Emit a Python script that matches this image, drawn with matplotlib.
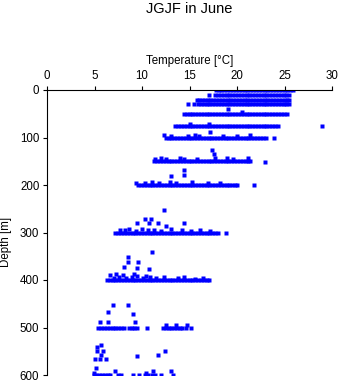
import matplotlib.pyplot as plt

plt.rcParams["font.family"] = ["Liberation Sans", "DejaVu Sans"]

# standard depths of the cast [m] and the temperatures read at each [degC]
row_depths = [0, 10, 20, 30, 50, 75, 100, 150, 200, 300, 400, 500, 600]
row_temps = [
    [17.8, 18.1, 18.3, 18.6, 18.9, 19.3, 19.6, 19.9, 20.2, 20.5, 20.8, 21.1, 21.4, 21.7,
     22.0, 22.3, 22.6, 22.9, 23.2, 23.5, 23.8, 24.1, 24.4, 24.7, 25.0, 25.3, 25.6, 25.9],
    [17.1, 17.7, 18.0, 18.3, 18.6, 18.9, 19.2, 19.5, 19.8, 20.1, 20.4, 20.7, 21.0, 21.3,
     21.6, 21.9, 22.2, 22.5, 22.8, 23.1, 23.4, 23.7, 24.0, 24.3, 24.6, 24.9, 25.2, 25.5],
    [15.8, 16.0, 16.3, 16.6, 16.9, 17.2, 17.5, 17.8, 18.1, 18.4, 18.7, 19.0, 19.3, 19.6,
     19.9, 20.2, 20.5, 20.8, 21.1, 21.4, 21.7, 22.0, 22.3, 22.6, 22.9, 23.2, 23.5, 23.8,
     24.1, 24.4, 24.7, 25.0, 25.3, 25.5],
    [14.8, 15.5, 15.9, 16.2, 16.5, 16.8, 17.1, 17.4, 17.7, 18.0, 18.3, 18.6, 18.9, 19.2,
     19.5, 19.8, 20.1, 20.4, 20.7, 21.0, 21.3, 21.6, 21.9, 22.2, 22.5, 22.8, 23.1, 23.4,
     23.7, 24.0, 24.3, 24.6, 24.9, 25.2, 25.5],
    [14.4, 14.7, 15.0, 15.3, 15.6, 15.9, 16.2, 16.5, 16.8, 17.1, 17.4, 17.7, 18.0, 18.3,
     18.6, 18.9, 19.2, 19.5, 19.8, 20.1, 20.4, 20.7, 21.0, 21.3, 21.6, 21.9, 22.2, 22.5,
     22.8, 23.1, 23.4, 23.7, 24.0, 24.3, 24.6, 24.9, 25.3],
    [13.5, 13.8, 14.1, 14.4, 14.7, 15.0, 15.3, 15.6, 15.9, 16.2, 16.5, 16.8, 17.1, 17.4,
     17.7, 18.0, 18.3, 18.6, 18.9, 19.2, 19.5, 19.8, 20.1, 20.4, 20.7, 21.0, 21.3, 21.6,
     21.9, 22.2, 22.5, 22.8, 23.1, 23.4, 23.7, 24.0, 24.3, 28.9],
    [12.5, 12.8, 13.1, 13.4, 13.7, 14.0, 14.3, 14.6, 14.9, 15.2, 15.5, 15.8, 16.1, 16.4,
     16.7, 17.0, 17.3, 17.6, 17.9, 18.2, 18.5, 18.8, 19.1, 19.4, 19.7, 20.0, 20.3, 20.6,
     20.9, 21.2, 21.5, 21.8, 22.1, 22.4, 22.7, 23.1],
    [11.3, 11.6, 11.9, 12.2, 12.5, 12.8, 13.1, 13.4, 13.7, 14.0, 14.3, 14.6, 14.9, 15.2,
     15.5, 15.8, 16.1, 16.4, 16.7, 17.0, 17.3, 17.6, 17.9, 18.2, 18.5, 18.8, 19.1, 19.4,
     19.7, 20.0, 20.3, 20.6, 20.9, 21.2, 21.4],
    [9.6, 9.9, 10.2, 10.5, 10.8, 11.1, 11.4, 11.7, 12.0, 12.3, 12.6, 12.9, 13.2, 13.5,
     13.8, 14.1, 14.4, 14.7, 15.0, 15.3, 15.6, 15.9, 16.2, 16.5, 16.8, 17.1, 17.4, 17.7,
     18.0, 18.3, 18.6, 18.9, 19.2, 19.5, 19.8, 20.0],
    [7.2, 7.5, 7.8, 8.1, 8.4, 8.7, 9.0, 9.3, 9.6, 9.9, 10.2, 10.5, 10.8, 11.1, 11.4,
     11.7, 12.0, 12.3, 12.6, 12.9, 13.2, 13.5, 13.8, 14.1, 14.4, 14.7, 15.0, 15.3, 15.6,
     15.9, 16.2, 16.5, 16.8, 17.1, 17.4, 17.7, 18.0],
    [6.3, 6.6, 6.9, 7.2, 7.5, 7.8, 8.1, 8.4, 8.7, 9.0, 9.3, 9.6, 9.9, 10.2, 10.5, 10.8,
     11.1, 11.4, 11.7, 12.0, 12.3, 12.6, 12.9, 13.2, 13.5, 13.8, 14.1, 14.4, 14.7, 15.0,
     15.3, 15.6, 15.9, 16.2, 16.5, 16.8, 17.1],
    [5.4, 5.7, 6.0, 6.3, 6.6, 6.9, 7.2, 7.5, 7.8, 8.1, 8.6, 8.9, 9.2, 9.5, 10.5, 12.2,
     12.5, 12.8, 13.1, 13.4, 13.7, 14.0, 14.2, 14.6, 15.2],
    [4.9, 5.2, 5.5, 5.8, 6.1, 6.4, 6.6, 7.5, 7.8, 9.0, 9.7, 10.3, 10.6, 11.0, 11.4, 12.0,
     13.3],
]

# samples just above the standard depths (thickens the bands)
band_temps = [20.5, 15.0, 17.1, 12.3, 15.6, 21.4, 13.0, 14.8, 16.0, 18.5, 20.0,
              11.4, 12.0, 14.0, 14.4, 17.7, 18.9, 21.2, 12.5, 15.8, 19.6,
              10.3, 11.0, 11.8, 12.9, 13.6, 15.3, 16.9, 18.2, 9.4,
              7.7, 8.2, 8.6, 9.4, 10.0, 10.6, 11.3, 12.0, 13.0, 14.2, 15.2, 16.1, 17.2,
              7.0, 7.6, 8.3, 8.9, 9.5, 10.1, 10.8, 11.5, 12.3, 6.6, 7.3, 8.0, 9.2,
              10.4, 13.8, 14.4, 15.6, 16.4]
band_depths = [47, 72, 72, 95, 94, 95, 96, 96, 96, 97, 96,
               145, 144, 144, 145, 143, 144, 144, 146, 145, 146,
               195, 194, 196, 193, 195, 194, 196, 195, 196,
               295, 294, 292, 296, 293, 295, 294, 296, 293, 295, 296, 295, 296,
               395, 393, 396, 394, 392, 395, 393, 396, 394, 390, 388, 389, 387,
               392, 396, 393, 397, 396]

# isolated samples between the standard depths
lone_temps = [19.0, 17.2, 23.9, 17.4, 17.6, 22.9, 14.4, 14.4, 13.0, 21.8,
              12.3, 10.3, 10.9, 10.7, 11.7, 9.5, 14.4, 12.5, 18.8,
              11.0, 8.5, 8.5, 9.6, 8.1, 9.5, 10.7,
              6.9, 8.5, 6.4, 9.1, 9.3, 5.6, 6.4, 14.7, 12.5, 13.6,
              5.7, 5.3, 5.3, 5.9, 12.4, 5.7, 11.7, 9.5, 5.0, 5.6, 6.2,
              5.2, 13.1, 7.2, 11.2, 4.9, 10.4]
lone_depths = [41, 89, 102, 127, 135, 152, 169, 179, 182, 201,
               253, 272, 272, 279, 279, 281, 281, 286, 302,
               340, 351, 363, 363, 372, 375, 377,
               453, 453, 468, 472, 489, 489, 489, 494, 494, 494,
               536, 541, 550, 550, 550, 558, 558, 560, 567, 567, 567,
               586, 592, 592, 592, 595, 595]

fig = plt.figure(figsize=(3.41, 3.84), dpi=100)
ax = fig.add_axes([47 / 341, 1 - 375 / 384, 285 / 341, 285 / 384])

style = dict(marker="s", ms=2.2, mec="none", mfc="#0000ff", linestyle="none")
for d, temps in zip(row_depths, row_temps):
    ax.plot(temps, [d] * len(temps), **style)
ax.plot(band_temps, band_depths, **style)
ax.plot(lone_temps, lone_depths, **style)

ax.set_xlim(0, 30)
ax.set_ylim(600, 0)
ax.set_xticks([0, 5, 10, 15, 20, 25, 30])
ax.set_yticks([0, 100, 200, 300, 400, 500, 600])
ax.xaxis.tick_top()
ax.spines["right"].set_visible(False)
ax.spines["bottom"].set_visible(False)
for s in ("top", "left"):
    ax.spines[s].set_linewidth(0.8)
ax.tick_params(axis="both", direction="out", length=3, width=0.8, labelsize=8.3)
ax.tick_params(axis="x", pad=3)
ax.tick_params(axis="y", pad=2.5)

fig.text(189.5 / 341, 1 - 61 / 384, "Temperature [°C]", ha="center", va="center", fontsize=8.3)
fig.text(6 / 341, 1 - 242 / 384, "Depth [m]", ha="center", va="center", rotation=90, fontsize=8.3)
fig.text(189.5 / 341, 1 - 9 / 384, "JGJF in June", ha="center", va="center", fontsize=10.5)

fig.savefig("out.png", dpi=100)
